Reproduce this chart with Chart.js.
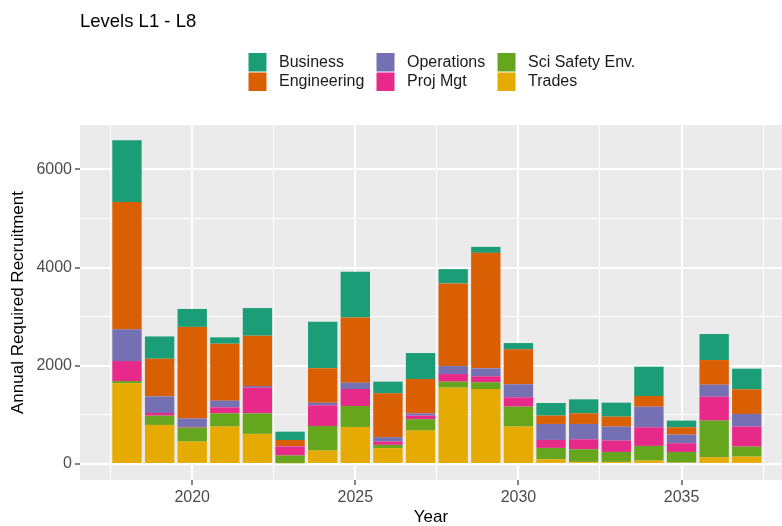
<!DOCTYPE html>
<html>
<head>
<meta charset="utf-8">
<script src="https://cdn.jsdelivr.net/npm/chart.js@4/dist/chart.umd.min.js"></script>
<style>
  html, body { margin: 0; padding: 0; background: #ffffff; }
  #wrap { width: 782px; height: 526px; }
</style>
</head>
<body>
<div id="wrap"><canvas id="c" width="782" height="526"></canvas></div>
<script>
// ---- data ----
const years = [2018, 2019, 2020, 2021, 2022, 2023, 2024, 2025, 2026, 2027, 2028, 2029, 2030, 2031, 2032, 2033, 2034, 2035, 2036, 2037];
const trades      = [1642, 794, 454, 760, 611, 15, 271, 753, 320, 678, 1553, 1526, 760, 95, 41, 41, 68, 27, 136, 149];
const sciSafety   = [47, 189, 285, 271, 420, 157, 502, 427, 68, 232, 122, 137, 406, 231, 257, 203, 298, 217, 746, 203];
const projMgt     = [407, 55, 15, 122, 522, 183, 421, 346, 68, 74, 156, 122, 191, 162, 204, 231, 380, 177, 488, 408];
const operations  = [645, 338, 171, 136, 34, 10, 54, 129, 88, 47, 163, 162, 265, 326, 312, 285, 420, 176, 244, 258];
const engineering = [2597, 767, 1866, 1160, 1025, 122, 699, 1330, 895, 699, 1683, 2353, 712, 170, 217, 203, 218, 149, 502, 502];
const business    = [1255, 454, 366, 129, 563, 170, 949, 929, 237, 529, 291, 122, 128, 257, 285, 285, 597, 136, 530, 420];

const seriesNames = ['Trades', 'Sci Safety Env.', 'Proj Mgt', 'Operations', 'Engineering', 'Business'];
const legendOrder = ['Business', 'Engineering', 'Operations', 'Proj Mgt', 'Sci Safety Env.', 'Trades'];
const xTickValues = [2017.5, 2020, 2022.5, 2025, 2027.5, 2030, 2032.5, 2035, 2037.5];
const yTickValues = [0, 1000, 2000, 3000, 4000, 5000, 6000];
const titleText = 'Levels L1 - L8';
const xTitle = 'Year';
const yTitle = 'Annual Required Recruitment';

const colors = {
  'Trades': '#E6AB02',
  'Sci Safety Env.': '#66A61E',
  'Proj Mgt': '#E7298A',
  'Operations': '#7570B3',
  'Engineering': '#D95F02',
  'Business': '#1B9E77'
};
const seriesValues = [trades, sciSafety, projMgt, operations, engineering, business];

const FONT = '"Liberation Sans", Arial, Helvetica, sans-serif';

const datasets = seriesNames.map((name, i) => ({
  label: name,
  data: years.map((y, j) => ({ x: y, y: seriesValues[i][j] })),
  backgroundColor: colors[name],
  borderWidth: 0,
  categoryPercentage: 1.0,
  barPercentage: 0.9
}));

const panelBg = {
  id: 'panelBg',
  beforeDraw(chart) {
    const { ctx, chartArea: a } = chart;
    ctx.save();
    ctx.fillStyle = '#EBEBEB';
    ctx.fillRect(a.left, a.top, a.right - a.left, a.bottom - a.top);
    ctx.restore();
  }
};

const titleLegend = {
  id: 'titleLegend',
  afterDraw(chart) {
    const ctx = chart.ctx;
    ctx.save();
    ctx.fillStyle = '#000000';
    ctx.font = '18.5px ' + FONT;
    ctx.textAlign = 'left';
    ctx.textBaseline = 'middle';
    ctx.fillText(titleText, 80, 21.5);

    const colX = [248.5, 376.5, 497.5];
    const rowY = [53, 72.5];
    const keyW = 18, keyH = 18.5;
    ctx.font = '16px ' + FONT;
    legendOrder.forEach((name, k) => {
      const col = Math.floor(k / 2), row = k % 2;
      const x = colX[col], y = rowY[row];
      ctx.fillStyle = colors[name];
      ctx.fillRect(x, y, keyW, keyH);
      ctx.fillStyle = '#1a1a1a';
      ctx.fillText(name, x + 30.5, y + keyH / 2);
    });
    ctx.restore();
  }
};

new Chart(document.getElementById('c'), {
  type: 'bar',
  data: { datasets },
  plugins: [panelBg, titleLegend],
  options: {
    responsive: false,
    animation: false,
    events: [],
    layout: { padding: { top: 125, left: 0, right: 0, bottom: 0 } },
    plugins: {
      legend: { display: false },
      tooltip: { enabled: false },
      title: { display: false }
    },
    scales: {
      x: {
        type: 'linear',
        stacked: true,
        offset: false,
        min: 2016.56,
        max: 2038.08,
        afterBuildTicks(scale) { scale.ticks = xTickValues.map(v => ({ value: v })); },
        afterFit(scale) { scale.height = 46; },
        border: { display: false },
        grid: {
          offset: false,
          drawOnChartArea: true,
          color: '#FFFFFF',
          lineWidth: (c) => (c.tick && Number.isInteger(c.tick.value)) ? 2 : 1,
          tickColor: (c) => (c.tick && Number.isInteger(c.tick.value)) ? '#333333' : 'rgba(0,0,0,0)',
          tickLength: 5,
          tickWidth: 1.2
        },
        ticks: {
          autoSkip: false,
          maxRotation: 0,
          padding: 3,
          color: '#4D4D4D',
          font: { family: FONT, size: 16 },
          callback: (v) => Number.isInteger(v) ? String(v) : ''
        },
        title: {
          display: true,
          text: xTitle,
          color: '#000000',
          font: { family: FONT, size: 17, lineHeight: 1 },
          padding: { top: 0, bottom: 0 }
        }
      },
      y: {
        stacked: true,
        min: -328,
        max: 6905,
        afterBuildTicks(scale) { scale.ticks = yTickValues.map(v => ({ value: v })); },
        afterFit(scale) { scale.width = 80; },
        border: { display: false },
        grid: {
          color: '#FFFFFF',
          lineWidth: (c) => (c.tick && c.tick.value % 2000 === 0) ? 2 : 1,
          tickColor: (c) => (c.tick && c.tick.value % 2000 === 0) ? '#333333' : 'rgba(0,0,0,0)',
          tickLength: 5,
          tickWidth: 1.2
        },
        ticks: {
          padding: 3,
          color: '#4D4D4D',
          font: { family: FONT, size: 16 },
          callback: (v) => (v % 2000 === 0) ? String(v) : ''
        },
        title: {
          display: true,
          text: yTitle,
          color: '#000000',
          font: { family: FONT, size: 17, lineHeight: 1 },
          padding: { top: 9.5, bottom: 0 }
        }
      }
    }
  }
});
</script>
</body>
</html>
